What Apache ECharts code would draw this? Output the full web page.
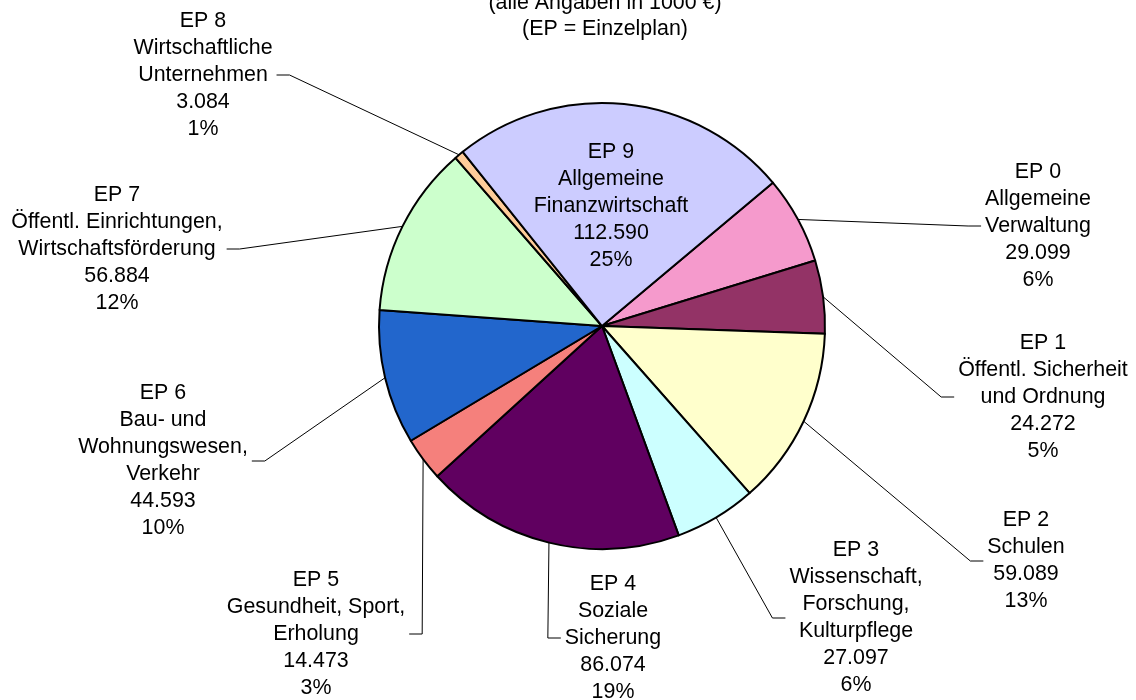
<!DOCTYPE html>
<html>
<head>
<meta charset="utf-8">
<title>Einzelpläne</title>
<script src="https://cdn.jsdelivr.net/npm/echarts@6/dist/echarts.min.js"></script>
<style>
    html, body { margin: 0; padding: 0; background: #fff; }
    #chart { width: 1136px; height: 700px; }
</style>
</head>
<body>
<div id="chart"></div>
<script>
// Einzelpläne (Kategorien, mit Zeilenumbrüchen wie im Original)
const categories = [
    'EP 0\nAllgemeine\nVerwaltung',
    'EP 1\nÖffentl. Sicherheit\nund Ordnung',
    'EP 2\nSchulen',
    'EP 3\nWissenschaft,\nForschung,\nKulturpflege',
    'EP 4\nSoziale\nSicherung',
    'EP 5\nGesundheit, Sport,\nErholung',
    'EP 6\nBau- und\nWohnungswesen,\nVerkehr',
    'EP 7\nÖffentl. Einrichtungen,\nWirtschaftsförderung',
    'EP 8\nWirtschaftliche\nUnternehmen',
    'EP 9\nAllgemeine\nFinanzwirtschaft'
];

// Beträge in 1000 €
const values = [29099, 24272, 59089, 27097, 86074, 14473, 44593, 56884, 3084, 112590];

// Farben der Segmente
const sliceColors = [
    '#F59ACC', '#933366', '#FFFFCC', '#CCFFFF', '#600060',
    '#F5807C', '#2266CC', '#CCFFCC', '#FFCC99', '#CCCCFF'
];

// Titelzeilen (oberste Zeile im Original abgeschnitten)
const titleLines = ['(alle Angaben in 1000 €)', '(EP = Einzelplan)'];

// Mittelpunkt der Beschriftungsblöcke
const labelPos = [
    [1038, 226], [1043, 397], [1026, 561], [856, 618], [613, 638],
    [316, 634], [163, 461], [117, 249], [203, 75], [611, 206]
];

const FONT = "'Liberation Sans', Arial, sans-serif";
const FONT_SIZE = 21.4;

// Tausendertrennzeichen (deutsch)
function fmtDe(v) {
    return String(v).replace(/\B(?=(\d{3})+(?!\d))/g, '.');
}

const chart = echarts.init(document.getElementById('chart'));

const pieData = values.map((v, i) => {
    const item = { value: v, name: categories[i], itemStyle: { color: sliceColors[i] } };
    // EP 9 wird im Segment beschriftet
    if (i === 9) {
        item.label = { position: 'inside' };
        item.labelLine = { show: false };
    }
    return item;
});

const option = {
    animation: false,
    backgroundColor: '#fff',
    graphic: [{
        type: 'text',
        x: 605,
        y: -10,
        style: {
            text: titleLines.join('\n'),
            fontFamily: FONT,
            fontSize: FONT_SIZE,
            lineHeight: 26,
            fill: '#000',
            align: 'center',
            verticalAlign: 'top'
        }
    }],
    series: [{
        type: 'pie',
        center: [602, 326],
        radius: 223,
        startAngle: 40,
        clockwise: true,
        avoidLabelOverlap: false,
        percentPrecision: 0,
        emphasis: { disabled: true },
        itemStyle: { borderColor: '#000', borderWidth: 2 },
        label: {
            show: true,
            color: '#000',
            fontFamily: FONT,
            fontSize: FONT_SIZE,
            lineHeight: 27,
            formatter: function (p) {
                return p.name + '\n' + fmtDe(p.value) + '\n' + p.percent + '%';
            }
        },
        labelLine: {
            show: true,
            length: 10,
            length2: 10,
            lineStyle: { color: '#000', width: 1 }
        },
        // Beschriftungen an feste Stellen, Führungslinie vom Bogenmittelpunkt zum Block
        labelLayout: function (params) {
            const pos = labelPos[params.dataIndex];
            const res = { x: pos[0], y: pos[1], align: 'center', verticalAlign: 'middle' };
            const pts = params.labelLinePoints;
            if (pts && params.dataIndex !== 9) {
                const start = pts[0];
                const halfW = params.labelRect.width / 2;
                const dir = pos[0] > start[0] ? -1 : 1;
                const endX = pos[0] + dir * (halfW + 4);
                const elbowX = endX + dir * 13;
                res.labelLinePoints = [start, [elbowX, pos[1]], [endX, pos[1]]];
            }
            return res;
        },
        data: pieData
    }]
};

chart.setOption(option);
window.addEventListener('resize', () => chart.resize());
</script>
</body>
</html>
